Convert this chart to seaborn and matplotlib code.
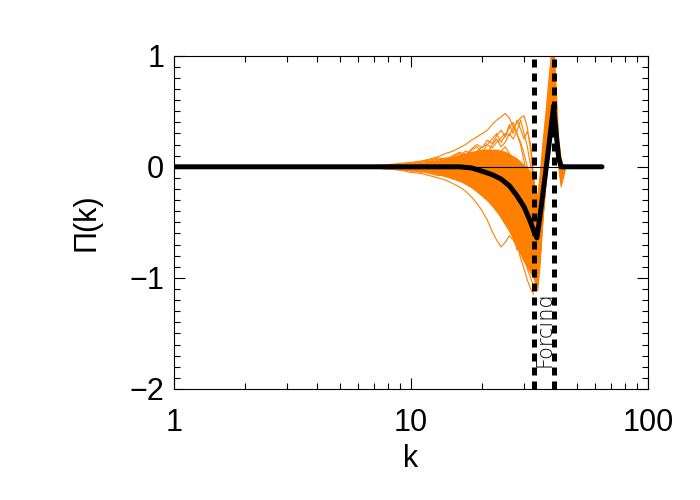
import numpy as np
import pandas as pd
import matplotlib
matplotlib.use("Agg")
import matplotlib.pyplot as plt
from matplotlib.ticker import MultipleLocator, LogLocator, NullFormatter
import seaborn as sns

# wavenumbers of the individual runs
k_runs = list(range(6, 46))

# individual runs of the flux Pi(k) (k = 6 .. 45)
run01 = [0.00, 0.01, 0.02, 0.03, 0.04, 0.05, 0.07, 0.09, 0.12, 0.14, 0.17, 0.20, 0.24, 0.27, 0.30, 0.33, 0.38, 0.42, 0.45, 0.48,
         0.44, 0.36, 0.30, 0.22, 0.12, 0.00, -0.15, -0.35, -0.50, -0.30, 0.00, 0.30, 0.55, 0.80, 0.95, 0.50, 0.10, -0.05, 0.02, 0.00]
run02 = [0.00, 0.00, 0.01, 0.02, 0.02, 0.04, 0.05, 0.04, 0.06, 0.08, 0.10, 0.12, 0.10, 0.14, 0.18, 0.20, 0.17, 0.22, 0.26, 0.30,
         0.28, 0.35, 0.40, 0.44, 0.46, 0.35, 0.15, -0.20, -0.45, -0.20, 0.10, 0.35, 0.60, 0.85, 1.05, 0.60, 0.20, 0.05, -0.02, 0.00]
run03 = [0.00, -0.01, 0.00, 0.01, 0.00, 0.02, 0.03, 0.05, 0.04, 0.06, 0.05, 0.08, 0.10, 0.08, 0.12, 0.15, 0.12, 0.10, 0.14, 0.18,
         0.12, 0.05, -0.05, -0.15, -0.25, -0.40, -0.55, -0.70, -0.78, -0.55, -0.25, 0.05, 0.30, 0.55, 0.70, 0.35, 0.05, -0.08, 0.00, 0.00]
run04 = [0.00, -0.01, -0.02, -0.03, -0.05, -0.06, -0.08, -0.10, -0.12, -0.15, -0.18, -0.22, -0.27, -0.33, -0.40, -0.48, -0.58, -0.66, -0.72, -0.68,
         -0.62, -0.66, -0.72, -0.78, -0.85, -0.90, -0.95, -1.00, -1.05, -0.80, -0.45, -0.10, 0.20, 0.45, 0.60, 0.30, 0.05, -0.10, -0.05, 0.00]
run05 = [0.00, 0.00, -0.01, -0.02, -0.01, -0.03, -0.04, -0.03, -0.06, -0.08, -0.07, -0.10, -0.14, -0.12, -0.18, -0.22, -0.20, -0.28, -0.35, -0.42,
         -0.50, -0.60, -0.70, -0.82, -0.92, -1.02, -1.10, -1.15, -1.20, -0.90, -0.50, -0.15, 0.20, 0.50, 0.75, 0.40, 0.08, -0.12, -0.05, 0.00]
run06 = [0.00, 0.01, 0.00, 0.01, 0.02, 0.01, 0.00, 0.02, 0.03, 0.01, -0.02, 0.00, 0.03, -0.02, -0.05, -0.03, -0.08, -0.12, -0.10, -0.16,
         -0.20, -0.25, -0.30, -0.34, -0.40, -0.46, -0.52, -0.60, -0.66, -0.48, -0.25, -0.02, 0.20, 0.40, 0.58, 0.32, 0.06, 0.00, 0.00, 0.00]
run07 = [0.00, 0.00, 0.01, 0.00, 0.03, 0.02, 0.05, 0.07, 0.05, 0.09, 0.12, 0.08, 0.15, 0.18, 0.13, 0.20, 0.25, 0.30, 0.22, 0.28,
         0.35, 0.40, 0.30, 0.20, 0.05, -0.10, -0.28, -0.45, -0.60, -0.35, -0.05, 0.25, 0.50, 0.75, 0.90, 0.45, 0.12, 0.03, -0.03, 0.00]
run08 = [0.00, -0.01, -0.01, -0.02, -0.04, -0.03, -0.06, -0.08, -0.07, -0.10, -0.13, -0.12, -0.18, -0.22, -0.20, -0.28, -0.33, -0.30, -0.38, -0.45,
         -0.55, -0.50, -0.58, -0.65, -0.72, -0.80, -0.85, -0.90, -0.95, -0.70, -0.40, -0.10, 0.15, 0.40, 0.55, 0.28, 0.02, -0.15, -0.08, 0.00]
run09 = [0.00, 0.00, 0.00, -0.01, -0.02, -0.02, -0.03, -0.05, -0.04, -0.06, -0.09, -0.08, -0.12, -0.10, -0.15, -0.20, -0.18, -0.25, -0.32, -0.40,
         -0.48, -0.60, -0.75, -0.68, -0.80, -0.92, -1.00, -1.08, -1.10, -0.85, -0.50, -0.20, 0.10, 0.35, 0.50, 0.25, 0.00, -0.10, -0.02, 0.00]
run10 = [0.00, 0.00, 0.01, 0.01, 0.02, 0.03, 0.02, 0.04, 0.06, 0.05, 0.08, 0.06, 0.05, 0.08, 0.06, 0.10, 0.08, 0.05, 0.02, 0.00,
         -0.04, -0.10, -0.16, -0.22, -0.28, -0.35, -0.42, -0.50, -0.55, -0.38, -0.15, 0.10, 0.35, 0.60, 0.80, 0.40, 0.10, 0.02, 0.00, 0.00]
run11 = [0.00, -0.01, -0.02, -0.01, -0.03, -0.05, -0.04, -0.06, -0.09, -0.07, -0.10, -0.14, -0.12, -0.16, -0.12, -0.10, -0.15, -0.20, -0.18, -0.25,
         -0.30, -0.36, -0.42, -0.48, -0.55, -0.62, -0.70, -0.78, -0.85, -0.62, -0.32, -0.05, 0.25, 0.50, 0.65, 0.30, 0.04, -0.06, 0.00, 0.00]
run12 = [0.00, 0.01, 0.00, 0.02, 0.03, 0.02, 0.04, 0.06, 0.08, 0.07, 0.10, 0.14, 0.12, 0.10, 0.15, 0.12, 0.20, 0.25, 0.18, 0.22,
         0.30, 0.25, 0.32, 0.42, 0.30, 0.18, 0.00, -0.25, -0.40, -0.15, 0.15, 0.42, 0.70, 0.95, 1.15, 0.70, 0.25, 0.08, 0.00, 0.00]
run13 = [0.00, 0.00, -0.01, 0.00, -0.01, 0.00, -0.02, -0.01, -0.03, -0.05, -0.04, -0.06, -0.05, -0.08, -0.10, -0.13, -0.17, -0.15, -0.22, -0.28,
         -0.33, -0.40, -0.48, -0.55, -0.60, -0.68, -0.78, -0.86, -0.92, -0.68, -0.38, -0.08, 0.20, 0.45, 0.62, 0.35, 0.06, -0.12, -0.05, 0.00]
run14 = [0.00, 0.00, 0.00, 0.01, 0.01, 0.00, 0.01, 0.03, 0.02, 0.04, 0.03, 0.05, 0.02, 0.05, 0.08, 0.04, 0.00, 0.05, 0.08, 0.04,
         -0.02, -0.06, -0.12, -0.10, -0.18, -0.26, -0.36, -0.46, -0.52, -0.32, -0.08, 0.18, 0.42, 0.68, 0.85, 0.45, 0.10, -0.02, 0.00, 0.00]
run15 = [0.00, 0.00, 0.01, 0.02, 0.03, 0.05, 0.06, 0.08, 0.07, 0.10, 0.13, 0.11, 0.16, 0.20, 0.17, 0.24, 0.21, 0.28, 0.33, 0.27,
         0.38, 0.30, 0.42, 0.34, 0.25, 0.32, 0.20, -0.10, -0.35, -0.10, 0.20, 0.45, 0.72, 0.98, 1.10, 0.62, 0.18, 0.04, 0.00, 0.00]
run16 = [0.00, -0.01, -0.01, -0.03, -0.02, -0.04, -0.06, -0.05, -0.08, -0.11, -0.09, -0.14, -0.17, -0.15, -0.22, -0.26, -0.24, -0.32, -0.40, -0.36,
         -0.45, -0.55, -0.48, -0.62, -0.78, -0.70, -0.86, -0.98, -1.12, -0.86, -0.48, -0.16, 0.14, 0.42, 0.58, 0.28, 0.02, -0.18, -0.10, 0.00]
runs = [run01, run02, run03, run04, run05, run06, run07, run08, run09, run10, run11, run12, run13, run14, run15, run16]

# dense core of the bundle of runs
core_lo = [0.00, -0.01, -0.01, -0.02, -0.03, -0.04, -0.05, -0.07, -0.09, -0.11, -0.13, -0.16, -0.19, -0.23, -0.27, -0.31, -0.36, -0.41, -0.47, -0.53,
           -0.59, -0.66, -0.73, -0.79, -0.85, -0.91, -0.96, -1.01, -1.06, -0.82, -0.47, -0.16, 0.10, 0.35, 0.50, 0.25, 0.02, -0.12, -0.04, 0.00]
core_hi = [0.00, 0.01, 0.01, 0.02, 0.03, 0.04, 0.05, 0.06, 0.08, 0.09, 0.11, 0.12, 0.14, 0.15, 0.16, 0.16, 0.16, 0.16, 0.15, 0.14,
           0.12, 0.10, 0.08, 0.05, 0.02, 0.00, -0.05, -0.12, -0.25, -0.05, 0.20, 0.45, 0.70, 0.95, 1.05, 0.55, 0.15, 0.05, 0.01, 0.00]

# ensemble mean
mean_k = [1, 6, 10, 14, 16, 18, 20, 22, 24, 26, 28, 29, 30, 31, 32, 33, 34, 35, 36, 37, 38, 39, 40, 41, 42, 43, 44, 64]
mean_v = [0.0, 0.0, 0.0, 0.0, 0.0, -0.01, -0.04, -0.07, -0.11, -0.17, -0.26, -0.31, -0.36, -0.43, -0.50, -0.58, -0.64,
          -0.45, -0.25, -0.05, 0.15, 0.35, 0.55, 0.30, 0.08, 0.0, 0.0, 0.0]

# forcing band
forcing = [33, 40]
forcing_label = "Forcing"

orange = "#ff7f00"

df = pd.DataFrame({
    "k": np.tile(k_runs, len(runs)),
    "Pi": np.concatenate(runs),
    "run": np.repeat(np.arange(len(runs)), len(k_runs)),
})

sns.set_style("ticks")
plt.rcParams["font.family"] = ["Liberation Sans", "DejaVu Sans"]
plt.rcParams["text.color"] = "black"
plt.rcParams["axes.labelcolor"] = "black"
plt.rcParams["xtick.color"] = "black"
plt.rcParams["ytick.color"] = "black"

fig = plt.figure(figsize=(7, 5), dpi=100)
ax = fig.add_axes([0.2486, 0.222, 0.677, 0.6666])

ax.fill_between(k_runs, core_lo, core_hi, color=orange, lw=0, zorder=1)
sns.lineplot(data=df, x="k", y="Pi", units="run", estimator=None, color=orange,
             lw=0.8, legend=False, ax=ax, zorder=2)

ax.plot([mean_k[0], mean_k[-1]], [0, 0], color="black", lw=0.8, zorder=3)
sns.lineplot(x=mean_k, y=mean_v, color="black", lw=3.6, ax=ax, zorder=4)

for kf in forcing:
    ax.axvline(kf, color="black", lw=3.6, dashes=(1.6, 1.2), zorder=6)

ax.text(np.sqrt(forcing[0] * forcing[1]) * 1.01, -1.8, forcing_label, rotation=90,
        ha="center", va="bottom", fontsize=15, family="DejaVu Sans", fontweight="light",
        bbox=dict(facecolor="white", edgecolor="none", pad=0.5), zorder=5)

ax.set_xscale("log")
ax.set_xlim(1, 100)
ax.set_ylim(-2, 1)
ax.set_xticks([1, 10, 100])
ax.set_xticklabels(["1", "10", "100"])
ax.xaxis.set_minor_locator(LogLocator(base=10, subs=np.arange(2, 10)))
ax.xaxis.set_minor_formatter(NullFormatter())
ax.set_yticks([-2, -1, 0, 1])
ax.yaxis.set_minor_locator(MultipleLocator(0.1))

ax.tick_params(which="both", direction="in", top=True, right=True, color="black", width=0.8)
ax.tick_params(which="major", length=8, labelsize=22, labelcolor="black")
ax.tick_params(which="minor", length=4)
ax.tick_params(axis="x", which="major", pad=14)
ax.tick_params(axis="y", which="major", pad=7)

ax.set_xlabel("k", fontsize=22, labelpad=4)
ax.set_ylabel("Π(k)", fontsize=22, labelpad=20)
for s in ax.spines.values():
    s.set_color("black")
    s.set_linewidth(0.8)

fig.savefig("out.png", dpi=100)
